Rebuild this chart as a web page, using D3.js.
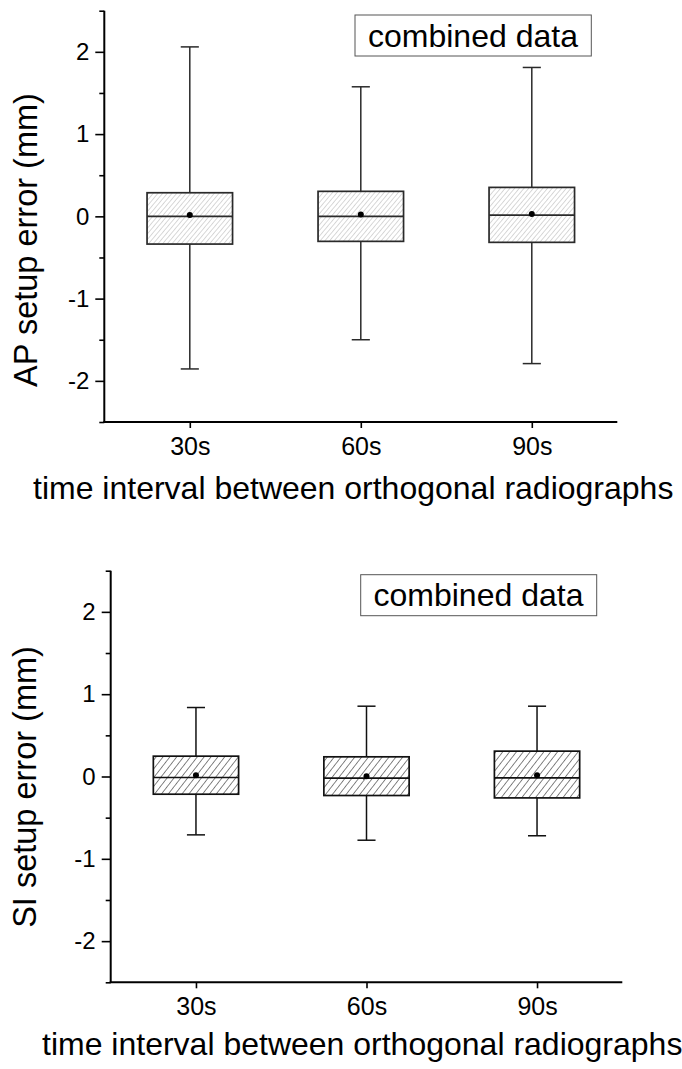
<!DOCTYPE html>
<html>
<head>
<meta charset="utf-8">
<script src="https://cdn.jsdelivr.net/npm/d3@7"></script>
<style>
  html, body { margin: 0; padding: 0; background: #fff; }
  svg { display: block; }
  text { font-family: "Liberation Sans", Arial, sans-serif; fill: #000; }
</style>
</head>
<body>
<svg id="chart" width="682" height="1069"></svg>
<script>
// ---- data ----
const categories = ["30s", "60s", "90s"];
const yTicks = [-2, -1, 0, 1, 2];
const yMinorTicks = [-2.5, -1.5, -0.5, 0.5, 1.5, 2.5];

const apWhiskerHigh = [2.06, 1.575, 1.81];
const apQ3 = [0.287, 0.304, 0.352];
const apMedian = [0.0, 0.0, 0.016];
const apMean = [0.016, 0.024, 0.028];
const apQ1 = [-0.337, -0.304, -0.316];
const apWhiskerLow = [-1.855, -1.50, -1.79];

const siWhiskerHigh = [0.838, 0.854, 0.854];
const siQ3 = [0.247, 0.239, 0.308];
const siMedian = [-0.012, -0.02, -0.016];
const siMean = [0.016, 0.004, 0.016];
const siQ1 = [-0.215, -0.231, -0.26];
const siWhiskerLow = [-0.709, -0.774, -0.72];

const yLabels = ["AP setup error (mm)", "SI setup error (mm)"];
const xTitle = "time interval between orthogonal radiographs";
const legendText = "combined data";

// ---- drawing ----
const svg = d3.select("#chart");
const defs = svg.append("defs");

defs.append("pattern")
  .attr("id", "hatchLight").attr("patternUnits", "userSpaceOnUse")
  .attr("width", 3.6).attr("height", 10).attr("patternTransform", "rotate(40)")
  .append("line").attr("x1", 0).attr("y1", 0).attr("x2", 0).attr("y2", 10)
  .attr("stroke", "#9a9a9a").attr("stroke-width", 0.8);

defs.append("pattern")
  .attr("id", "hatchDark").attr("patternUnits", "userSpaceOnUse")
  .attr("width", 5.4).attr("height", 10).attr("patternTransform", "rotate(38)")
  .append("line").attr("x1", 0).attr("y1", 0).attr("x2", 0).attr("y2", 10)
  .attr("stroke", "#222").attr("stroke-width", 1.1);

const panels = [
  {
    left: 104.3, right: 617.3, top: 10.7, bottom: 422,
    hi: apWhiskerHigh, q3: apQ3, med: apMedian, mean: apMean, q1: apQ1, lo: apWhiskerLow,
    fill: "url(#hatchLight)", ylabel: yLabels[0], ylabelX: 37, ylabelY: 240,
    titleX: 33, titleY: 499, legend: {x0: 355, y0: 15, x1: 591.3, y1: 56, tx: 368, ty: 47},
    boxStroke: "#2a2a2a"
  },
  {
    left: 110.7, right: 622.3, top: 570.7, bottom: 982.3,
    hi: siWhiskerHigh, q3: siQ3, med: siMedian, mean: siMean, q1: siQ1, lo: siWhiskerLow,
    fill: "url(#hatchDark)", ylabel: yLabels[1], ylabelX: 36, ylabelY: 787,
    titleX: 42, titleY: 1055, legend: {x0: 360.7, y0: 574.7, x1: 596.7, y1: 615.7, tx: 373.5, ty: 606},
    boxStroke: "#111"
  }
];

panels.forEach(p => {
  const g = svg.append("g");
  const x = d3.scaleLinear().domain([0.5, categories.length + 0.5]).range([p.left, p.right]);
  const y = d3.scaleLinear().domain([-2.5, 2.5]).range([p.bottom, p.top]);
  const boxHalf = 0.25, capHalf = 0.053;

  const data = categories.map((c, i) => ({
    c, i: i + 1, hi: p.hi[i], q3: p.q3[i], med: p.med[i], mean: p.mean[i], q1: p.q1[i], lo: p.lo[i]
  }));

  const bx = g.selectAll("g.box").data(data).join("g").attr("class", "box");
  // whiskers
  bx.append("line")
    .attr("x1", d => x(d.i)).attr("x2", d => x(d.i))
    .attr("y1", d => y(d.hi)).attr("y2", d => y(d.lo))
    .attr("stroke", p.boxStroke).attr("stroke-width", 1.5);
  bx.append("line")
    .attr("x1", d => x(d.i - capHalf)).attr("x2", d => x(d.i + capHalf))
    .attr("y1", d => y(d.hi)).attr("y2", d => y(d.hi))
    .attr("stroke", p.boxStroke).attr("stroke-width", 1.5);
  bx.append("line")
    .attr("x1", d => x(d.i - capHalf)).attr("x2", d => x(d.i + capHalf))
    .attr("y1", d => y(d.lo)).attr("y2", d => y(d.lo))
    .attr("stroke", p.boxStroke).attr("stroke-width", 1.5);
  // box
  bx.append("rect")
    .attr("x", d => x(d.i - boxHalf)).attr("width", d => x(d.i + boxHalf) - x(d.i - boxHalf))
    .attr("y", d => y(d.q3)).attr("height", d => y(d.q1) - y(d.q3))
    .attr("fill", "#fff").attr("stroke", "none");
  bx.append("rect")
    .attr("x", d => x(d.i - boxHalf)).attr("width", d => x(d.i + boxHalf) - x(d.i - boxHalf))
    .attr("y", d => y(d.q3)).attr("height", d => y(d.q1) - y(d.q3))
    .attr("fill", p.fill).attr("stroke", p.boxStroke).attr("stroke-width", 1.7);
  bx.append("line")
    .attr("x1", d => x(d.i - boxHalf)).attr("x2", d => x(d.i + boxHalf))
    .attr("y1", d => y(d.med)).attr("y2", d => y(d.med))
    .attr("stroke", p.boxStroke).attr("stroke-width", 1.7);
  bx.append("circle")
    .attr("cx", d => x(d.i)).attr("cy", d => y(d.mean)).attr("r", 3)
    .attr("fill", "#000");

  // y axis (major)
  const yAxis = g.append("g").attr("transform", `translate(${p.left},0)`)
    .call(d3.axisLeft(y).tickValues(yTicks).tickSize(9).tickPadding(6)
      .tickFormat(d3.format("d")));
  yAxis.select(".domain").attr("stroke", "#000").attr("stroke-width", 2)
    .attr("d", `M0,${p.top}V${p.bottom}`);
  yAxis.selectAll(".tick line").attr("stroke", "#000").attr("stroke-width", 1.6);
  yAxis.selectAll(".tick text").attr("font-size", 24).attr("font-family", "Liberation Sans, Arial, sans-serif")
    .text(d => d < 0 ? "-" + Math.abs(d) : d);
  // minor
  const yMinor = g.append("g").attr("transform", `translate(${p.left},0)`)
    .call(d3.axisLeft(y).tickValues(yMinorTicks).tickSize(5).tickFormat(""));
  yMinor.select(".domain").remove();
  yMinor.selectAll(".tick line").attr("stroke", "#000").attr("stroke-width", 1.6);

  // x axis
  const xAxis = g.append("g").attr("transform", `translate(0,${p.bottom})`)
    .call(d3.axisBottom(x).tickValues(data.map(d => d.i)).tickSize(6).tickPadding(9)
      .tickFormat((d, i) => categories[i]));
  xAxis.select(".domain").attr("stroke", "#000").attr("stroke-width", 2)
    .attr("d", `M${p.left - 1},0H${p.right}`);
  xAxis.selectAll(".tick line").attr("stroke", "#000").attr("stroke-width", 1.6);
  xAxis.selectAll(".tick text").attr("font-size", 25).attr("font-family", "Liberation Sans, Arial, sans-serif");

  // axis titles
  g.append("text")
    .attr("transform", `translate(${p.ylabelX},${p.ylabelY}) rotate(-90)`)
    .attr("text-anchor", "middle").attr("font-size", 32.5).text(p.ylabel);
  g.append("text")
    .attr("x", p.titleX).attr("y", p.titleY)
    .attr("text-anchor", "start").attr("font-size", 32).text(xTitle);

  // legend box
  const L = p.legend;
  g.append("rect").attr("x", L.x0).attr("y", L.y0)
    .attr("width", L.x1 - L.x0).attr("height", L.y1 - L.y0)
    .attr("fill", "#fff").attr("stroke", "#555").attr("stroke-width", 1);
  g.append("text").attr("x", L.tx).attr("y", L.ty).attr("font-size", 32).text(legendText);
});
</script>
</body>
</html>
